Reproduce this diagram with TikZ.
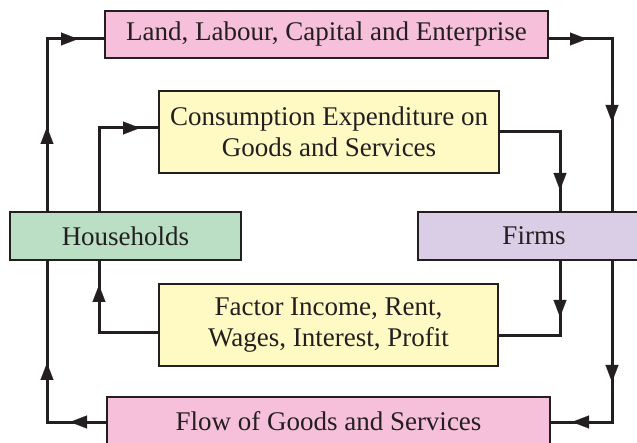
\documentclass[tikz,border=0pt]{standalone}
\usepackage{fontspec}
\setmainfont{Liberation Serif}
\usetikzlibrary{arrows.meta,calc}
\definecolor{pinkbox}{RGB}{246,192,218}
\definecolor{yellowbox}{RGB}{255,249,196}
\definecolor{greenbox}{RGB}{186,223,197}
\definecolor{lavbox}{RGB}{217,206,230}
\definecolor{ink}{RGB}{35,31,32}
\begin{document}
\begin{tikzpicture}[x=1pt,y=-1pt,
  box/.style={draw=ink,line width=2.2pt,inner sep=0pt,align=center,text=ink,
    font=\fontsize{27}{30.5}\selectfont},
  conn/.style={draw=ink,line width=3pt,line join=miter},
  tip/.style={draw=ink,fill=ink,line width=0.1pt,-{Triangle[length=17pt,width=13pt]}}]
\useasboundingbox (0,0) rectangle (637,443);
\clip (0,0) rectangle (637,443);
% boxes
\node[box,fill=pinkbox,minimum width=443pt,minimum height=47pt] (lab) at (326.5,34.5) {Land, Labour, Capital and Enterprise};
\node[box,fill=yellowbox,minimum width=340pt,minimum height=82pt] (cons) at (329,132) {Consumption Expenditure on\\Goods and Services};
\node[box,fill=greenbox,minimum width=231pt,minimum height=48pt] (hh) at (125.5,236) {Households};
\node[box,fill=lavbox,minimum width=232pt,minimum height=48pt] (firms) at (534,236) {Firms};
\node[box,fill=yellowbox,minimum width=339pt,minimum height=82pt] (fac) at (328.5,325) {Factor Income, Rent,\\Wages, Interest, Profit};
\node[box,fill=pinkbox,minimum width=443pt,minimum height=48pt] (flow) at (328.5,421) {Flow of Goods and Services};
% corner coordinates
\coordinate (c1) at (47,39);
\coordinate (c2) at (99,128);
\coordinate (c3) at (560,132);
\coordinate (c4) at (612,39);
\coordinate (c5) at (560,336);
\coordinate (c6) at (99,333);
\coordinate (c7) at (612,422);
\coordinate (c8) at (47,422);
% connectors
\draw[conn] (hh.north -| c1) -- (c1) -- (lab.west |- c1);
\draw[conn] (hh.north -| c2) -- (c2) -- (cons.west |- c2);
\draw[conn] (cons.east |- c3) -- (c3) -- (firms.north -| c3);
\draw[conn] (lab.east |- c4) -- (c4) -- (firms.north -| c4);
\draw[conn] (firms.south -| c5) -- (c5) -- (fac.east |- c5);
\draw[conn] (fac.west |- c6) -- (c6) -- (hh.south -| c6);
\draw[conn] (firms.south -| c7) -- (c7) -- (flow.east |- c7);
\draw[conn] (flow.west |- c8) -- (c8) -- (hh.south -| c8);
% arrowheads
\draw[tip] (47,145) -- (47,127);
\draw[tip] (60,39) -- (78,39);
\draw[tip] (122,128) -- (140,128);
\draw[tip] (560,172) -- (560,190);
\draw[tip] (569,39) -- (587,39);
\draw[tip] (612,104) -- (612,122);
\draw[tip] (560,299) -- (560,317);
\draw[tip] (99,303) -- (99,285);
\draw[tip] (612,364) -- (612,382);
\draw[tip] (590,422) -- (572,422);
\draw[tip] (88,422) -- (70,422);
\draw[tip] (47,381) -- (47,363);
\end{tikzpicture}
\end{document}
